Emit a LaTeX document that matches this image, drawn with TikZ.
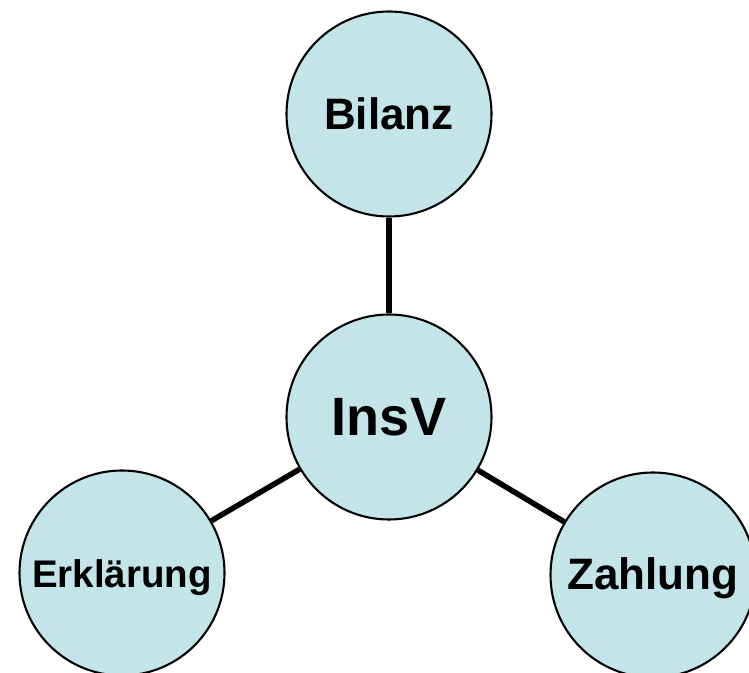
\documentclass[tikz,border=0pt]{standalone}
\usepackage{fontspec}
\setmainfont{Liberation Sans}
\definecolor{bubblefill}{HTML}{C4E5E8}
\begin{document}
\begin{tikzpicture}[x=1pt,y=1pt,
  bubble/.style={circle, draw=black, line width=2.1pt, fill=bubblefill,
    minimum size=205pt, inner sep=0pt, font=\bfseries},
  link/.style={line width=5.5pt, draw=black}]
  \useasboundingbox (0,0) rectangle (749,672);
  \clip (0,0) rectangle (749,672);
  \node[bubble] (insv) at (389,255) {\fontsize{54}{60}\selectfont InsV};
  \node[bubble] (bilanz) at (389,558) {\fontsize{44}{50}\selectfont Bilanz};
  \node[bubble] (erkl) at (122,99) {\fontsize{38.5}{44}\selectfont\raisebox{-5pt}[\height][\depth]{Erklärung}};
  \node[bubble] (zahl) at (653,97) {\fontsize{44}{50}\selectfont\raisebox{-3pt}[\height][\depth]{Zahlung}};
  \draw[link] (bilanz) -- (insv);
  \draw[link] (insv) -- (erkl);
  \draw[link] (insv) -- (zahl);
\end{tikzpicture}
\end{document}
